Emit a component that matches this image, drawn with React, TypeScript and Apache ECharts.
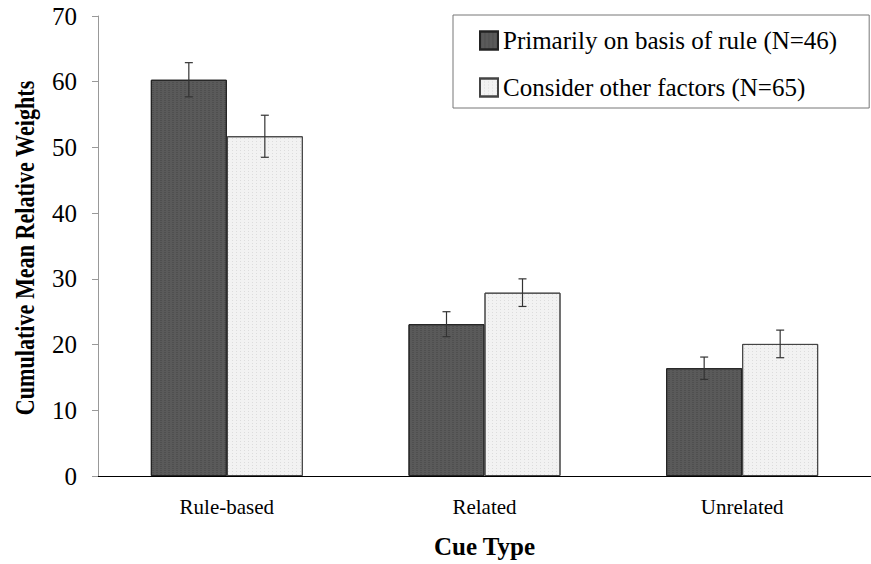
import React, { useEffect, useRef } from "react";
import * as echarts from "echarts";

const categories = ["Rule-based", "Related", "Unrelated"];
const seriesNames = ["Primarily on basis of rule (N=46)", "Consider other factors (N=65)"];
const ruleValues = [60.3, 23.1, 16.4];
const ruleErrors = [2.6, 1.9, 1.7];
const otherValues = [51.7, 27.9, 20.1];
const otherErrors = [3.2, 2.1, 2.1];
const yTicks = { min: 0, max: 70, interval: 10 };
const yAxisTitle = "Cumulative Mean Relative Weights";
const xAxisTitle = "Cue Type";

const FONT = "Liberation Serif";

function errorSeries(values: number[], errors: number[], side: number) {
  return {
    type: "custom",
    silent: true,
    z: 10,
    data: values.map((v, i) => [i, v - errors[i], v + errors[i]]),
    renderItem: (params: any, api: any) => {
      const cat = api.value(0);
      const lo = api.coord([cat, api.value(1)]);
      const hi = api.coord([cat, api.value(2)]);
      const barW = 76;
      const x = lo[0] + (side === 0 ? -barW / 2 : barW / 2);
      const cap = 4;
      const style = { stroke: "#333", lineWidth: 1.2 };
      return {
        type: "group",
        children: [
          { type: "line", shape: { x1: x, y1: lo[1], x2: x, y2: hi[1] }, style },
          { type: "line", shape: { x1: x - cap, y1: lo[1], x2: x + cap, y2: lo[1] }, style },
          { type: "line", shape: { x1: x - cap, y1: hi[1], x2: x + cap, y2: hi[1] }, style },
        ],
      };
    },
  };
}

export default function App() {
  const ref = useRef<HTMLDivElement>(null);
  useEffect(() => {
    if (!ref.current) return;
    const chart = echarts.init(ref.current, null, { renderer: "svg" });
    chart.setOption({
      animation: false,
      backgroundColor: "#fff",
      textStyle: { fontFamily: FONT },
      legend: {
        orient: "vertical",
        left: 453,
        top: 15,
        padding: [13, 32, 8, 26],
        itemGap: 22,
        itemWidth: 18,
        itemHeight: 18,
        icon: "rect",
        borderColor: "#777",
        borderWidth: 1,
        textStyle: { fontFamily: FONT, fontSize: 25, color: "#000" },
        data: seriesNames,
      },
      graphic: [
        {
          type: "group",
          x: 25,
          y: 248,
          rotation: Math.PI / 2,
          children: [
            {
              type: "text",
              x: 0,
              y: 0,
              scaleX: 0.82,
              style: {
                text: yAxisTitle,
                fontFamily: FONT,
                fontSize: 27,
                fontWeight: "bold",
                fill: "#000",
                align: "center",
                verticalAlign: "middle",
              },
            },
          ],
        },
      ],
      grid: { left: 98, right: -10, top: 16, bottom: 88 },
      xAxis: {
        type: "category",
        data: categories,
        name: xAxisTitle,
        nameLocation: "middle",
        nameGap: 58,
        nameMoveOverlap: false,
        nameTextStyle: { fontFamily: FONT, fontSize: 25, fontWeight: "bold", color: "#000" },
        axisLine: { lineStyle: { color: "#000", width: 1 } },
        axisTick: { show: false },
        axisLabel: { fontFamily: FONT, fontSize: 21, color: "#000", margin: 20 },
      },
      yAxis: {
        type: "value",
        min: yTicks.min,
        max: yTicks.max,
        interval: yTicks.interval,
        axisLine: { show: true, lineStyle: { color: "#999", width: 1 } },
        axisTick: { show: true, length: 6, lineStyle: { color: "#999" } },
        splitLine: { show: false },
        axisLabel: { fontFamily: FONT, fontSize: 25, color: "#000", margin: 21 },
      },
      series: [
        {
          name: seriesNames[0],
          type: "bar",
          data: ruleValues,
          barWidth: 76,
          barGap: "0%",
          itemStyle: {
            color: "#5a5a5a",
            borderColor: "#222",
            borderWidth: 1,
            decal: {
              symbol: "rect",
              symbolSize: 0.6,
              dashArrayX: [2, 2],
              dashArrayY: [1, 1],
              color: "rgba(20,20,20,0.55)",
              rotation: 0,
            },
          },
        },
        {
          name: seriesNames[1],
          type: "bar",
          data: otherValues,
          barWidth: 76,
          barGap: "0%",
          itemStyle: {
            color: "#f2f2f2",
            borderColor: "#444",
            borderWidth: 1,
            decal: {
              symbol: "rect",
              symbolSize: 0.5,
              dashArrayX: [1, 3],
              dashArrayY: [1, 2],
              color: "rgba(60,60,60,0.5)",
              rotation: 0,
            },
          },
        },
        errorSeries(ruleValues, ruleErrors, 0),
        errorSeries(otherValues, otherErrors, 1),
      ],
    });
    return () => chart.dispose();
  }, []);
  return <div ref={ref} style={{ width: 871, height: 564, position: "absolute", left: 0, top: 0 }} />;
}
